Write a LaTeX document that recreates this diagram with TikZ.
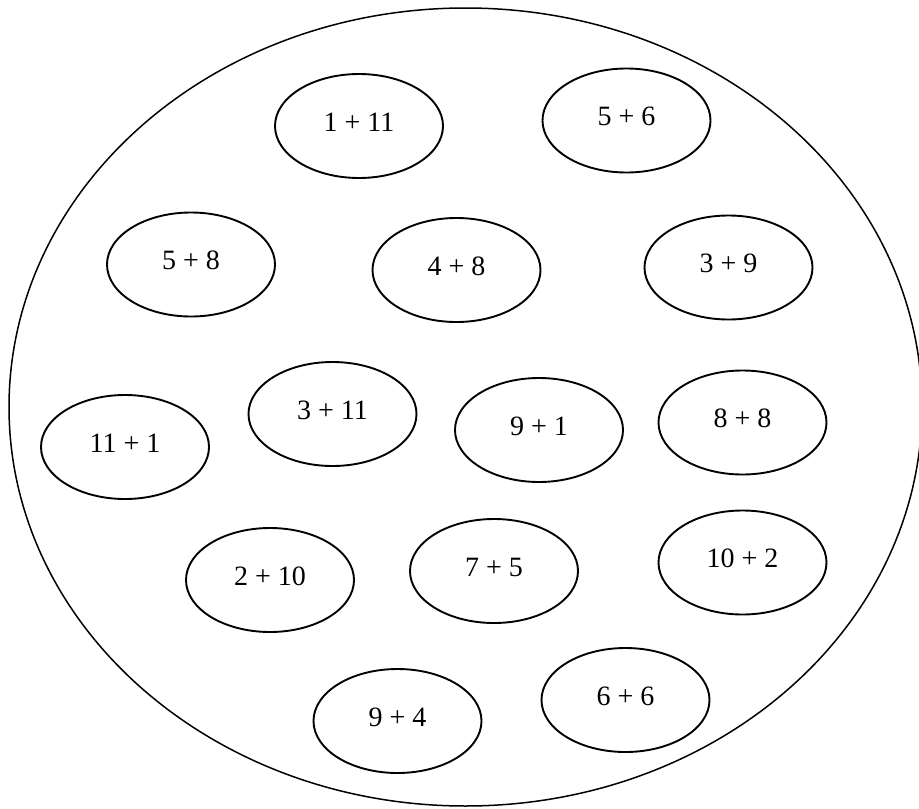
\documentclass[tikz,border=0pt]{standalone}
\usepackage{fontspec}
\setmainfont{Liberation Serif}
\usetikzlibrary{shapes.geometric}
\newcommand\liftup[1]{\raisebox{8pt}{#1}}
\begin{document}
\begin{tikzpicture}[x=1pt,y=-1pt,
  oval/.style={ellipse, draw, line width=1.9pt, minimum width=168pt, minimum height=104pt, inner sep=0pt, font=\fontsize{28}{30}\selectfont},
  plate/.style={ellipse, draw, line width=1.5pt, minimum width=913pt, minimum height=798pt, inner sep=0pt}]
\useasboundingbox (0,0) rectangle (919,809);
\node[plate] (plate) at (465.5,407) {};
\node[oval] (a) at (359,126) {\liftup{1 + 11}};
\node[oval] (b) at (626.5,120.5) {\liftup{5 + 6}};
\node[oval] (c) at (191,264.5) {\liftup{5 + 8}};
\node[oval] (d) at (456.5,270) {\liftup{4 + 8}};
\node[oval] (e) at (728.5,267.5) {\liftup{3 + 9}};
\node[oval] (f) at (125,447) {\liftup{11 + 1}};
\node[oval] (g) at (332.5,414) {\liftup{3 + 11}};
\node[oval] (h) at (539,430) {\liftup{9 + 1}};
\node[oval] (i) at (742.5,422.5) {\liftup{8 + 8}};
\node[oval] (j) at (270,580) {\liftup{2 + 10}};
\node[oval] (k) at (494,571) {\liftup{7 + 5}};
\node[oval] (l) at (742.5,562.5) {\liftup{10 + 2}};
\node[oval] (m) at (397.5,721) {\liftup{9 + 4}};
\node[oval] (n) at (625.5,700) {\liftup{6 + 6}};
\end{tikzpicture}
\end{document}
